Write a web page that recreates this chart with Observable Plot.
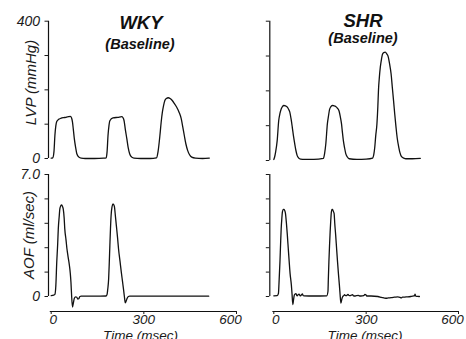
<!DOCTYPE html>
<html>
<head>
<meta charset="utf-8">
<script src="https://cdn.jsdelivr.net/npm/d3@7"></script>
<script src="https://cdn.jsdelivr.net/npm/@observablehq/plot@0.6"></script>
<style>
  html, body { margin: 0; padding: 0; background: #fff; }
  #root { position: relative; width: 466px; height: 339px; overflow: hidden; background: #fff; }
  #root > div, #root > svg { position: absolute; }
</style>
</head>
<body>
<div id="root"></div>
<script>
// ---------- data ----------
const wkyLvpT = [0,5,9,12,15,18,24,31,40,48,56,62,66,69,72,75,79,83,90,97,110,140,170,178,181,184,187,190,200,216,229,233,236,240,245,249,254,261,268,290,320,341,346,352,356,360,364,368,373,379,385,392,399,406,414,421,426,431,436,442,448,455,467,490,512];
const wkyLvpV = [1,2,20,67,95,108,114,117,119,120,122,123,118,106,82,57,33,14,4,1,0,0,1,2,20,67,95,110,118,120,122,118,110,85,57,33,14,4,1,0,0,2,20,67,105,135,155,169,175,177,175,169,160,150,135,116,92,67,43,23,11,4,1,0,1];

const shrLvpT = [0,2,6,11,16,20,24,28,33,38,44,48,52,56,60,64,68,72,76,81,87,100,130,161,165,169,174,178,181,185,190,195,201,207,212,216,220,223,226,230,234,239,245,270,300,321,325,328,331,335,338,340,343,346,350,353,357,362,367,372,376,381,385,389,393,397,401,406,410,415,422,429,450,476];
const shrLvpV = [3,8,25,57,115,135,148,155,158,157,153,147,139,120,96,70,48,28,14,7,4,3,3,6,20,48,105,130,146,154,158,157,155,150,142,126,105,80,57,36,19,10,5,3,4,7,18,38,70,105,155,201,240,268,292,305,310,311,306,297,278,249,210,172,132,96,64,38,22,11,7,5,5,6];

const wkyAofT = [0,8,12,15,18,21,23,26,28,31,34,37,39,42,44,48,51,55,59,62,64,66,69,72,75,79,83,86,89,93,97,140,178,181,183,186,188,190,192,194,197,200,203,205,208,211,215,218,223,227,231,234,237,240,243,246,250,254,300,400,510];
const wkyAofV = [0.05,0.08,0.12,0.6,1.97,3.0,3.88,4.6,5.03,5.2,5.26,5.15,5.03,4.5,3.88,3.25,2.74,2.25,1.78,1.3,0.82,0.1,-0.61,-0.35,-0.1,-0.02,-0.04,-0.15,-0.13,0.0,0.02,0.02,0.03,0.12,0.4,1.0,1.9,2.93,3.9,4.65,5.15,5.32,5.25,5.13,4.6,4.07,3.35,2.74,2.0,1.4,0.85,0.44,0.0,-0.36,-0.25,-0.1,0.0,0.02,0.02,0.02,0.02];

const shrAofT = [0,11,15,17,20,22,24,26,28,31,33,35,38,41,44,47,50,53,57,59,62,64,67,70,72,74,76,79,82,85,87,90,93,95,98,130,172,176,177,179,181,183,185,187,189,191,193,196,198,201,204,207,210,213,215,218,221,224,227,230,233,237,239,241,244,248,252,256,259,263,268,274,279,283,292,296,299,302,316,338,350,364,372,381,392,403,410,414,418,426,435,445,455,457,459,461,466,473];
const shrAofV = [0.04,0.05,0.17,0.8,2.0,3.0,3.9,4.45,4.85,5.0,5.0,4.95,4.76,4.2,3.52,2.75,2.0,1.3,0.67,0.2,-0.47,-0.2,0.1,0.15,0.17,0.08,0.04,0.1,0.14,0.05,0.04,0.1,0.15,0.06,0.04,0.03,0.04,0.3,0.9,2.0,2.9,3.7,4.35,4.85,5.0,5.0,4.9,4.76,4.2,3.52,2.75,2.0,1.3,0.67,0.2,-0.38,-0.15,0.0,0.05,0.1,0.05,0.05,0.1,0.12,0.06,0.05,0.08,0.1,0.04,0.03,0.05,0.07,0.03,0.03,0.05,0.12,0.1,0.03,0.03,0.0,-0.05,-0.1,-0.08,-0.06,-0.04,-0.02,-0.05,-0.08,-0.04,-0.03,-0.02,0.0,0.03,0.04,0.14,0.02,0.01,0.0];

const lvpTicks = [0, 100, 200, 300, 400];
const lvpTickLabels = ["0", "", "", "", "400"];
const aofTicks = [0, 1.4, 2.8, 4.2, 5.6, 7.0];
const aofTickLabels = ["0", "", "", "", "", "7.0"];
const timeTicks = [0, 300, 600];
const timeTickLabels = ["0", "300", "600"];

const groups = ["WKY", "SHR"];
const subtitle = "(Baseline)";
const lvpLabel = "LVP (mmHg)";
const aofLabel = "AOF (ml/sec)";
const timeLabel = "Time (msec)";

// ---------- drawing ----------
const root = document.getElementById("root");
const ink = "#111";
const fontFamily = "'Liberation Sans', Arial, Helvetica, sans-serif";
const baseStyle = {
  fontFamily,
  fontStyle: "italic",
  fontSize: "14px",
  color: "#1a1a1a",
  background: "transparent",
  overflow: "visible"
};
// small horizontal nudges of the time tick labels, as typeset in the original
const timeLabelNudge = [2, 0, -6];

const toRows = (T, V) => T.map((t, i) => ({t, v: V[i]}));

function panel({rows, left, top, width, height, m, xDomain, yDomain, yTicks, yLabels, showYText, xAxis}) {
  const marks = [
    Plot.ruleX([xDomain[0]], {y1: yTicks[0], y2: yTicks[yTicks.length - 1], stroke: ink, strokeWidth: 1.2}),
    Plot.axisY({
      ticks: yTicks, tickSize: 3.5, tickPadding: 5, label: null, strokeWidth: 1,
      tickFormat: (d) => showYText ? yLabels[yTicks.indexOf(d)] : ""
    })
  ];
  if (xAxis) {
    marks.push(Plot.ruleY([yDomain[0]], {x1: -3, x2: 603, stroke: ink, strokeWidth: 1.2}));
    marks.push(Plot.axisX({ticks: timeTicks, tickSize: 3, label: null, tickFormat: () => ""}));
    timeTicks.forEach((tk, i) => {
      marks.push(Plot.text([tk], {
        x: (d) => d, text: () => timeTickLabels[i],
        frameAnchor: "bottom", dy: 12.5, dx: timeLabelNudge[i],
        fontSize: 13.5, fill: "#1a1a1a"
      }));
    });
  }
  marks.push(Plot.lineY(rows, {x: "t", y: "v", curve: "monotone-x", stroke: ink, strokeWidth: 1.3}));
  const p = Plot.plot({
    width, height,
    marginLeft: m[0], marginRight: m[1], marginTop: m[2], marginBottom: m[3],
    x: {domain: xDomain, label: null, ...(xAxis ? {} : {axis: null})},
    y: {domain: yDomain, label: null},
    style: baseStyle,
    marks
  });
  p.style.left = left + "px";
  p.style.top = top + "px";
  root.appendChild(p);
}

const aofBottom = -0.86;

// LVP WKY
panel({rows: toRows(wkyLvpT, wkyLvpV), left: 0, top: 0, width: 240, height: 165,
  m: [48, 4, 20.7, 7], xDomain: [-8.7, 600], yDomain: [0, 400],
  yTicks: lvpTicks, yLabels: lvpTickLabels, showYText: true, xAxis: false});
// LVP SHR
panel({rows: toRows(shrLvpT, shrLvpV), left: 230, top: 0, width: 236, height: 165,
  m: [39.3, 8, 20.7, 5], xDomain: [-13, 600], yDomain: [0, 400],
  yTicks: lvpTicks, yLabels: lvpTickLabels, showYText: false, xAxis: false});
// AOF WKY
panel({rows: toRows(wkyAofT, wkyAofV), left: 0, top: 165, width: 240, height: 174,
  m: [48, 4, 9, 28], xDomain: [-8.7, 600], yDomain: [aofBottom, 7],
  yTicks: aofTicks, yLabels: aofTickLabels, showYText: true, xAxis: true});
// AOF SHR
panel({rows: toRows(shrAofT, shrAofV), left: 230, top: 165, width: 236, height: 174,
  m: [39.3, 8, 9, 28], xDomain: [-13, 600], yDomain: [aofBottom, 7],
  yTicks: aofTicks, yLabels: aofTickLabels, showYText: false, xAxis: true});

// ---------- titles & axis labels ----------
const ov = d3.select(root).append("svg")
  .attr("width", 466).attr("height", 339)
  .style("left", "0px").style("top", "0px").style("pointer-events", "none")
  .style("font-family", fontFamily)
  .style("font-style", "italic")
  .attr("fill", "#111");

const titles = [
  {text: groups[0], x: 141, y: 29, size: 18.5},
  {text: subtitle, x: 140, y: 48.5, size: 14.5},
  {text: groups[1], x: 363, y: 27, size: 18.5},
  {text: subtitle, x: 363, y: 42.5, size: 14.5}
];
ov.selectAll("text.title").data(titles).join("text")
  .attr("class", "title")
  .attr("x", d => d.x).attr("y", d => d.y)
  .attr("text-anchor", "middle").attr("font-weight", "bold")
  .attr("font-size", d => d.size).text(d => d.text);

const ylabs = [
  {text: lvpLabel, x: 35.5, y: 82.5},
  {text: aofLabel, x: 34, y: 235}
];
ov.selectAll("text.ylab").data(ylabs).join("text")
  .attr("class", "ylab")
  .attr("transform", d => `translate(${d.x},${d.y}) rotate(-90)`)
  .attr("text-anchor", "middle").attr("font-size", 15)
  .attr("fill", "#1a1a1a").text(d => d.text);

const xlabs = [
  {text: timeLabel, x: 140.5, y: 339.5},
  {text: timeLabel, x: 365, y: 339.5}
];
ov.selectAll("text.xlab").data(xlabs).join("text")
  .attr("class", "xlab")
  .attr("x", d => d.x).attr("y", d => d.y)
  .attr("text-anchor", "middle").attr("font-size", 13.5)
  .attr("fill", "#1a1a1a").text(d => d.text);
</script>
</body>
</html>
